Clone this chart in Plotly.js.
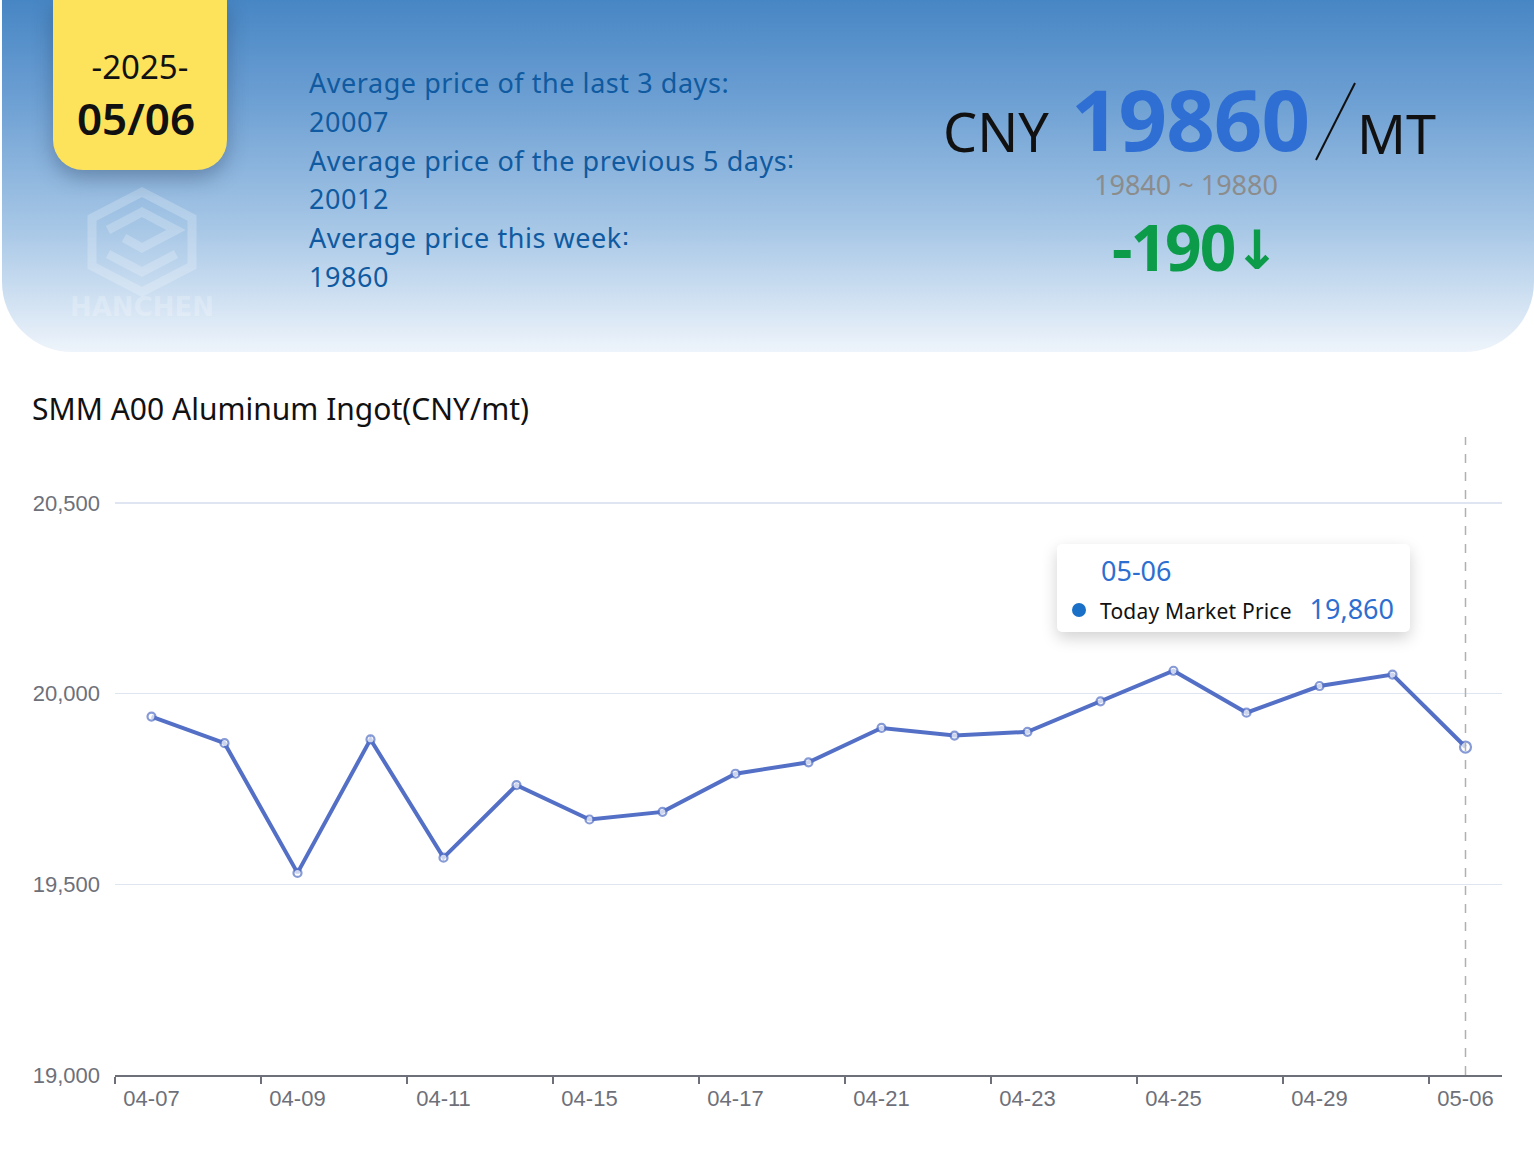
<!DOCTYPE html>
<html>
<head>
<meta charset="utf-8">
<script src="https://cdn.plot.ly/plotly-3.0.1.min.js"></script>
<style>
  html, body { margin:0; padding:0; background:#ffffff; }
  #wrap { position:relative; width:1534px; height:1151px; overflow:hidden; font-family:"Noto Sans", sans-serif; }
  #header { position:absolute; left:2px; top:0; width:1532px; height:352px;
    background:linear-gradient(180deg,#4786c4 0%,#6fa1d4 30%,#a7c7e6 65%,#eef4fb 100%);
    border-bottom-left-radius:70px; border-bottom-right-radius:70px; z-index:2; }
  #datebox { position:absolute; left:53px; top:0; width:174px; height:170px; background:#fde35c;
    border-bottom-left-radius:30px; border-bottom-right-radius:30px; box-shadow:0 8px 20px rgba(30,50,80,0.35);
    text-align:center; z-index:4; }
  #yr { position:absolute; left:0; width:100%; top:44px; font-size:33px; color:#111; line-height:46px; }
  #md { position:absolute; left:-4px; width:100%; top:90px; font-size:44px; font-weight:600; color:#111; line-height:56px; }
  #avg { position:absolute; left:309px; top:64px; z-index:4; color:#0f5aa0; font-size:27px; line-height:38.8px; letter-spacing:0.55px; }
  .abs { position:absolute; z-index:4; white-space:nowrap; }
  #tip { position:absolute; left:1057px; top:544px; width:353px; height:88px; background:#fff; border-radius:5px;
    box-shadow:0 6px 16px rgba(0,0,0,0.18); z-index:5; font-family:"Noto Sans", sans-serif; }
  #plot { position:absolute; left:0; top:0; width:1534px; height:1151px; z-index:1; }
</style>
</head>
<body>
<div id="wrap">
  <div id="plot"></div>
  <div id="header">
    <svg class="abs" style="left:52px;top:180px;z-index:3" width="180" height="150" viewBox="0 0 180 150">
      <g fill="none" stroke="rgba(255,255,255,0.22)" stroke-width="9" transform="translate(30,0)">
        <polygon points="58,12 108,38 108,86 58,112 8,86 8,38"/>
        <path d="M24,50 L58,32 L92,50 L58,68 L40,58"/>
        <path d="M24,74 L58,92 L92,74"/>
      </g>
      <text x="88" y="136" text-anchor="middle" font-family="DejaVu Sans" font-weight="bold" font-size="26" fill="rgba(255,255,255,0.22)">HANCHEN</text>
    </svg>
  </div>
  <div id="datebox"><div id="yr"></div><div id="md"></div></div>
  <div id="avg"></div>
  <div class="abs" id="cny" style="left:943px;top:96px;font-size:54px;color:#111;line-height:70px;">CNY</div>
  <div class="abs" id="big" style="left:1071px;top:68px;font-size:85px;font-weight:700;color:#2f6fd3;line-height:100px;letter-spacing:-1px;"></div>
  <svg class="abs" style="left:1310px;top:80px" width="50" height="85"><line x1="45" y1="3" x2="6" y2="80" stroke="#111" stroke-width="2"/></svg>
  <div class="abs" id="mt" style="left:1357px;top:98px;font-size:54px;color:#111;line-height:70px;">MT</div>
  <div class="abs" id="range" style="left:1086px;width:200px;text-align:center;top:168px;font-size:27px;color:#8c8c8c;line-height:34px;"></div>
  <div class="abs" style="left:1112px;top:205px;font-size:64px;font-weight:700;color:#0c9b49;line-height:84px;letter-spacing:-2px;"><span id="chg"></span><span id="arrow" style="font-family:'DejaVu Sans';font-weight:bold;font-size:54px;letter-spacing:0;position:relative;top:-2px;"></span></div>
  <div id="tip">
    <div class="abs" id="tipdate" style="left:44px;top:9px;font-size:27px;color:#2d6fd0;line-height:36px;"></div>
    <div class="abs" style="left:15px;top:59px;width:14px;height:14px;border-radius:7px;background:#1a6fc7;"></div>
    <div class="abs" id="tipname" style="left:43px;top:51px;font-size:21px;color:#111;line-height:32px;letter-spacing:0.2px;"></div>
    <div class="abs" id="tipval" style="right:16px;top:47px;font-size:27px;color:#2d6fd0;line-height:36px;"></div>
  </div>
</div>
<script>
// ---- data ----
const dates = ["04-07","04-08","04-09","04-10","04-11","04-14","04-15","04-16","04-17","04-18",
               "04-21","04-22","04-23","04-24","04-25","04-28","04-29","04-30","05-06"];
const prices = [19940,19870,19530,19880,19570,19760,19670,19690,19790,19820,
                19910,19890,19900,19980,20060,19950,20020,20050,19860];
const seriesName = "Today Market Price";
const chartTitle = "SMM A00 Aluminum Ingot(CNY/mt)";
const yearLabel = "-2025-";
const dayLabel = "05/06";
const avgLabels = ["Average price of the last 3 days:", "Average price of the previous 5 days\u2236", "Average price this week\u2236"];
const avgValues = ["20007", "20012", "19860"];
const currentPrice = "19860";
const priceRange = "19840 ~ 19880";
const priceChange = "-190";
const changeArrow = "\u2193";
const yTicks = [19000, 19500, 20000, 20500];

// ---- header text ----
document.getElementById('yr').textContent = yearLabel;
document.getElementById('md').textContent = dayLabel;
document.getElementById('avg').innerHTML = avgLabels.map((l,i)=>'<div>'+l+'</div><div>'+avgValues[i]+'</div>').join('');
document.getElementById('big').textContent = currentPrice;
document.getElementById('range').textContent = priceRange;
document.getElementById('chg').textContent = priceChange;
document.getElementById('arrow').textContent = changeArrow;
const last = prices.length - 1;
document.getElementById('tipdate').textContent = dates[last];
document.getElementById('tipname').textContent = seriesName;
document.getElementById('tipval').textContent = prices[last].toLocaleString('en-US');

// ---- chart ----
const sizes = prices.map((v,i)=> i===last ? 11 : 8);
const trace = {
  x: dates, y: prices, type:'scatter', mode:'lines+markers', name: seriesName,
  line:{color:'#5470c6', width:4},
  marker:{symbol:'circle', size:sizes, color:'#ffffff', line:{color:'#5470c6', width:2.2}},
  hoverinfo:'skip'
};
const layout = {
  width:1534, height:1151,
  margin:{l:115, r:32, t:437, b:76},
  paper_bgcolor:'rgba(0,0,0,0)', plot_bgcolor:'rgba(0,0,0,0)',
  showlegend:false,
  title:{text:chartTitle, x:32/1534, xanchor:'left', xref:'container', y:1-409/1151, yanchor:'middle', yref:'container',
         font:{family:'Noto Sans, sans-serif', size:30, color:'#111'}},
  xaxis:{type:'category', range:[-0.5, dates.length-0.5], tickmode:'linear', tick0:0, dtick:2,
         tickson:'boundaries', ticks:'outside', ticklen:7, tickwidth:2, tickcolor:'#6e7079',
         showline:true, linecolor:'#6e7079', linewidth:2, showgrid:false, zeroline:false,
         ticklabelstandoff:3,
         tickfont:{family:'Liberation Sans, sans-serif', size:22, color:'#6e7079'}, fixedrange:true},
  yaxis:{range:[19000, 20673], tickmode:'array', tickvals:yTicks, ticktext:yTicks.map(v=>v.toLocaleString('en-US')),
         showgrid:true, gridcolor:'#e0e6f1', gridwidth:1.5, zeroline:false, showline:false, ticks:'',
         ticklabelstandoff:14,
         tickfont:{family:'Liberation Sans, sans-serif', size:22, color:'#6e7079'}, fixedrange:true},
  shapes:[{type:'line', xref:'x', yref:'paper', x0:dates[last], x1:dates[last], y0:0, y1:1,
           line:{color:'#b0b0b0', width:1.5, dash:'dash'}}]
};
Plotly.newPlot('plot', [trace], layout, {displayModeBar:false, staticPlot:true});
</script>
</body>
</html>
